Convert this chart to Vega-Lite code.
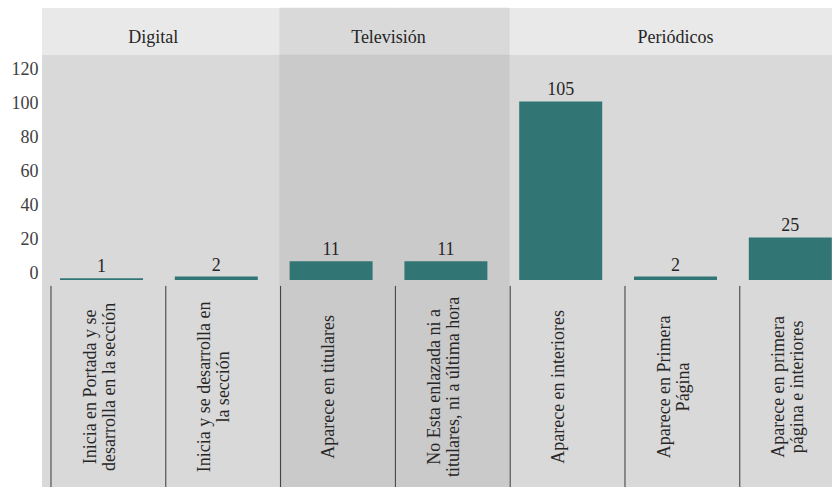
{
  "$schema": "https://vega.github.io/schema/vega-lite/v6.json",
  "width": 790,
  "height": 479,
  "autosize": {"type": "none"},
  "padding": {"left": 42, "top": 8, "right": 5, "bottom": 0},
  "background": "white",
  "view": {"stroke": null, "fill": "#d9d9d9"},
  "config": {
    "font": "'Liberation Serif', 'DejaVu Serif', serif",
    "text": {"font": "'Liberation Serif', 'DejaVu Serif', serif", "color": "#262626"}
  },
  "data": {
    "values": [
      {"medio": "Digital", "categoria": "Inicia en Portada y se\ndesarrolla en la sección", "valor": 1},
      {"medio": "Digital", "categoria": "Inicia y se desarrolla en\nla sección", "valor": 2},
      {"medio": "Televisión", "categoria": "Aparece en titulares", "valor": 11},
      {"medio": "Televisión", "categoria": "No Esta enlazada ni a\ntitulares, ni a última hora", "valor": 11},
      {"medio": "Periódicos", "categoria": "Aparece en interiores", "valor": 105},
      {"medio": "Periódicos", "categoria": "Aparece en Primera\nPágina", "valor": 2},
      {"medio": "Periódicos", "categoria": "Aparece en primera\npágina e interiores", "valor": 25}
    ]
  },
  "encoding": {
    "x": {
      "field": "categoria",
      "type": "nominal",
      "axis": null,
      "scale": {
        "type": "band",
        "domain": [
          "Inicia en Portada y se\ndesarrolla en la sección",
          "Inicia y se desarrolla en\nla sección",
          "Aparece en titulares",
          "No Esta enlazada ni a\ntitulares, ni a última hora",
          "Aparece en interiores",
          "Aparece en Primera\nPágina",
          "Aparece en primera\npágina e interiores"
        ],
        "range": [2.1, 805.7], "paddingInner": 0, "paddingOuter": 0
      }
    }
  },
  "layer": [
    {
      "mark": {"type": "rect", "color": "#e9e9e9"},
      "encoding": {
        "x": null,
        "y": {"datum": 160, "type": "quantitative", "scale": {"domain": [-121.8, 160], "nice": false, "zero": false},
          "axis": {"values": [0, 20, 40, 60, 80, 100, 120], "title": null, "domain": false, "ticks": false, "grid": false,
            "labelFont": "'Liberation Serif', 'DejaVu Serif', serif", "labelFontSize": 18, "labelColor": "#404040", "labelPadding": 4, "labelOffset": -6}},
        "y2": {"datum": 132.4}
      }
    },
    {
      "transform": [{"filter": "datum.medio === 'Televisión'"}],
      "mark": {"type": "bar", "color": "#d9d9d9", "width": {"band": 1}, "xOffset": 6, "stroke": "#d9d9d9", "strokeWidth": 0.5},
      "encoding": {
        "y": {"datum": 160, "type": "quantitative"},
        "y2": {"datum": 132.4}
      }
    },
    {
      "transform": [{"filter": "datum.medio === 'Televisión'"}],
      "mark": {"type": "bar", "color": "#cacaca", "width": {"band": 1}, "xOffset": 6, "stroke": "#cacaca", "strokeWidth": 0.5},
      "encoding": {
        "y": {"datum": 132.4, "type": "quantitative"},
        "y2": {"datum": -121.8}
      }
    },
    {
      "mark": {"type": "rule", "color": "#3a3a3a", "strokeWidth": 1},
      "encoding": {
        "x": {"field": "categoria", "type": "nominal", "bandPosition": 0.06},
        "y": {"datum": -3.5, "type": "quantitative"},
        "y2": {"datum": -121.8}
      }
    },
    {
      "mark": {"type": "bar", "color": "#317575", "width": 83},
      "encoding": {
        "y": {"field": "valor", "type": "quantitative"},
        "y2": {"datum": 0}
      }
    },
    {
      "mark": {"type": "text", "fontSize": 18, "baseline": "alphabetic", "dy": -6},
      "encoding": {
        "y": {"field": "valor", "type": "quantitative"},
        "text": {"field": "valor"}
      }
    },
    {
      "transform": [{"filter": "indexof(datum.categoria, '\\n') < 0"}],
      "mark": {"type": "text", "fontSize": 18, "angle": 270, "align": "center", "baseline": "middle", "lineBreak": "\n", "lineHeight": 19, "dy": -2},
      "encoding": {
        "y": {"datum": -62.9, "type": "quantitative"},
        "text": {"field": "categoria"}
      }
    },
    {
      "transform": [{"filter": "indexof(datum.categoria, '\\n') >= 0"}],
      "mark": {"type": "text", "fontSize": 18, "angle": 270, "align": "center", "baseline": "middle", "lineBreak": "\n", "lineHeight": 19, "dy": -11},
      "encoding": {
        "y": {"datum": -62.9, "type": "quantitative"},
        "text": {"field": "categoria"}
      }
    },
    {
      "transform": [{"filter": "datum.valor === 1"}],
      "mark": {"type": "text", "fontSize": 18, "baseline": "alphabetic", "align": "center"},
      "encoding": {
        "x": {"field": "categoria", "type": "nominal", "bandPosition": 0.95},
        "y": {"datum": 139.4, "type": "quantitative"},
        "text": {"field": "medio"}
      }
    },
    {
      "transform": [{"filter": "datum.medio === 'Televisión' && indexof(datum.categoria, 'Aparece') === 0"}],
      "mark": {"type": "text", "fontSize": 18, "baseline": "alphabetic", "align": "center"},
      "encoding": {
        "x": {"field": "categoria", "type": "nominal", "bandPosition": 1},
        "y": {"datum": 139.4, "type": "quantitative"},
        "text": {"field": "medio"}
      }
    },
    {
      "transform": [{"filter": "datum.medio === 'Periódicos' && datum.valor === 2"}],
      "mark": {"type": "text", "fontSize": 18, "baseline": "alphabetic", "align": "center"},
      "encoding": {
        "y": {"datum": 139.4, "type": "quantitative"},
        "text": {"field": "medio"}
      }
    }
  ]
}
